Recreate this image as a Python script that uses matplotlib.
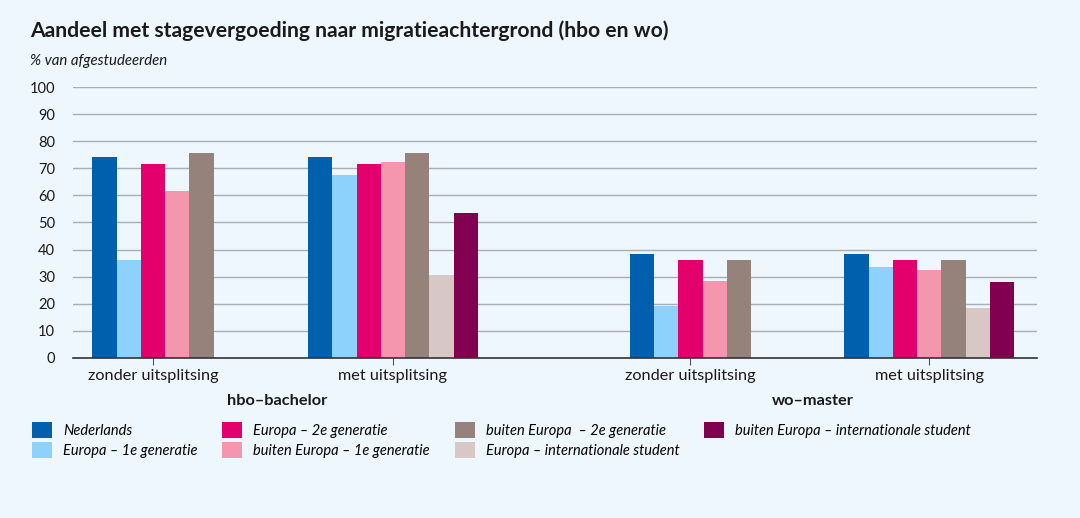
import numpy as np
import matplotlib.pyplot as plt
from matplotlib.patches import Patch

plt.rcParams['font.family'] = ['Lato', 'DejaVu Sans']

# categorieen en reeksen
categorieen = ['zonder uitsplitsing', 'met uitsplitsing', 'zonder uitsplitsing', 'met uitsplitsing']
groepen = ['hbo\u2013bachelor', 'wo\u2013master']
reeksen = ['Nederlands', 'Europa \u2013 1e generatie', 'Europa \u2013 2e generatie',
           'buiten Europa \u2013 1e generatie', 'buiten Europa  \u2013 2e generatie',
           'Europa \u2013 internationale student', 'buiten Europa \u2013 internationale student']
kleuren = ['#0060AE', '#8DD1FD', '#E3006C', '#F497AE', '#95827B', '#D7C8C6', '#820050']

nan = np.nan
# waarden per categorie (volgorde zoals reeksen)
hbo_zonder = [74, 36, 71.5, 61.5, 75.5, nan, nan]
hbo_met = [74, 67.5, 71.5, 72.5, 75.5, 30.5, 53.5]
wo_zonder = [38.5, 19, 36, 28.5, 36, nan, nan]
wo_met = [38.5, 33.5, 36, 32.5, 36, 18.5, 28]
waarden = [hbo_zonder, hbo_met, wo_zonder, wo_met]

posities = [0, 1, 2.24, 3.235]
breedte = 0.101
achtergrond = '#EEF7FE'

fig = plt.figure(figsize=(10.8, 5.18), dpi=100, facecolor=achtergrond)
ax = fig.add_axes([0.0676, 0.309, 0.8924, 0.523], facecolor=achtergrond)

for pos, rij in zip(posities, waarden):
    geldig = [i for i, v in enumerate(rij) if not np.isnan(v)]
    n = len(geldig)
    for k, i in enumerate(geldig):
        x = pos + (k - (n - 1) / 2) * breedte
        ax.bar(x, rij[i], width=breedte, color=kleuren[i], zorder=3)

ax.set_ylim(0, 100)
ax.set_xlim(-0.333, 3.683)
ax.set_yticks(range(0, 101, 10))
ax.yaxis.grid(True, color='#A9AEB3', linewidth=1.0, zorder=0)
ax.tick_params(axis='y', length=0, pad=13, labelsize=10.5, colors='#1a1a1a')
ax.set_xticks(posities)
ax.set_xticklabels(categorieen, fontsize=11.7, color='#1a1a1a')
ax.tick_params(axis='x', length=5, color='#555555', pad=3)
for s in ['top', 'right', 'left']:
    ax.spines[s].set_visible(False)
ax.spines['bottom'].set_color('#333333')
ax.spines['bottom'].set_linewidth(1.2)
ax.spines['bottom'].set_zorder(4)

fig.text(277 / 1080, 1 - 401 / 518, groepen[0], ha='center', va='center',
         fontsize=11.8, fontweight='bold', color='#1a1a1a')
fig.text(813 / 1080, 1 - 401 / 518, groepen[1], ha='center', va='center',
         fontsize=11.8, fontweight='bold', color='#1a1a1a')

fig.text(30 / 1080, 1 - 31 / 518, 'Aandeel met stagevergoeding naar migratieachtergrond (hbo en wo)',
         ha='left', va='center', fontsize=15.2, fontweight='bold', color='#1a1a1a')
fig.text(30 / 1080, 1 - 61 / 518, '% van afgestudeerden', ha='left', va='center',
         fontsize=10.8, style='italic', color='#1a1a1a')

handles = [Patch(facecolor=c, edgecolor='none') for c in kleuren]
leg = fig.legend(handles, reeksen, ncol=4, loc='upper left',
                 bbox_to_anchor=(19 / 1080, 1 - 409 / 518), frameon=False,
                 prop={'style': 'italic', 'size': 10.5}, handlelength=1.37, handleheight=1.3,
                 columnspacing=1.7, labelspacing=0.25, handletextpad=0.75)

plt.savefig('out.png', dpi=100, facecolor=achtergrond)
